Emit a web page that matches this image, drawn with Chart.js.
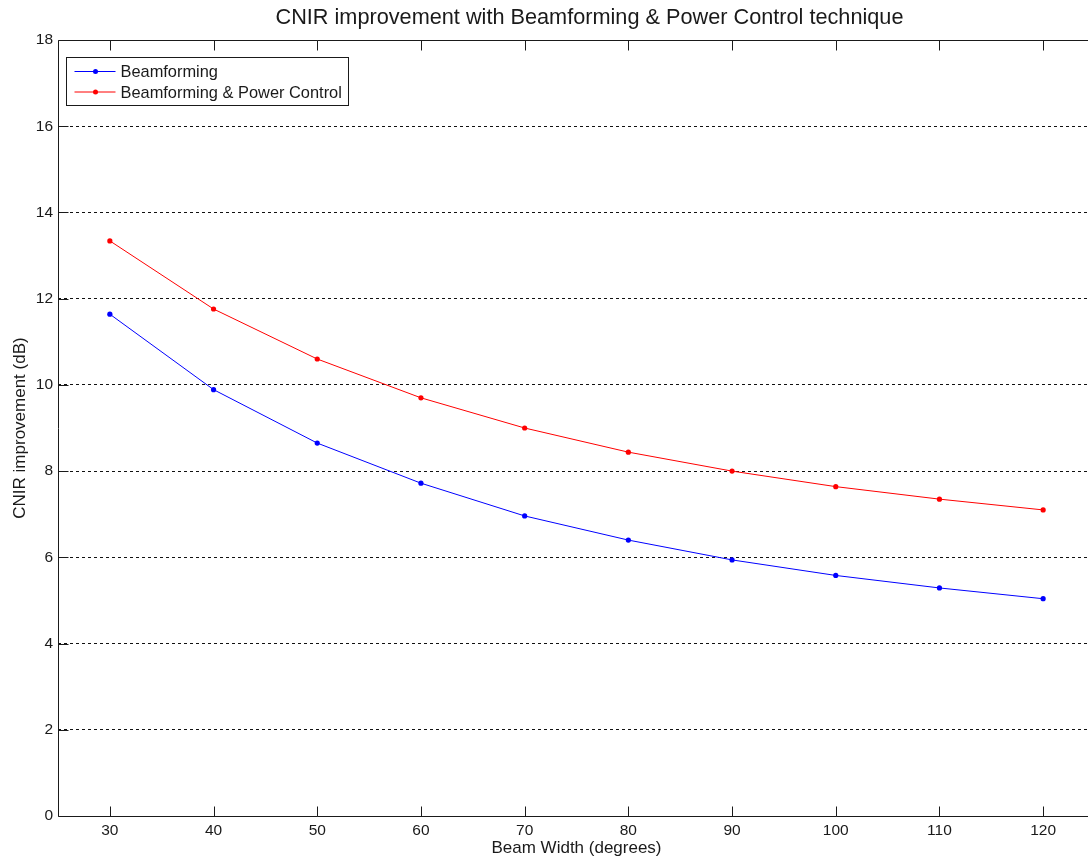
<!DOCTYPE html>
<html>
<head>
<meta charset="utf-8">
<title>CNIR improvement</title>
<script src="https://cdn.jsdelivr.net/npm/chart.js@4"></script>
<style>
  html, body { margin: 0; padding: 0; overflow: hidden; background: #fff; }
  #wrap { position: relative; width: 1179px; height: 859px; }
</style>
</head>
<body>
<div id="wrap"><canvas id="cnir"></canvas></div>
<script>
// Beam width (degrees) and CNIR improvement (dB) for each technique
const beamWidths = [30, 40, 50, 60, 70, 80, 90, 100, 110, 120];
const beamforming = [11.64, 9.89, 8.65, 7.72, 6.96, 6.40, 5.94, 5.58, 5.29, 5.04];
const beamformingPowerControl = [13.34, 11.76, 10.60, 9.70, 9.00, 8.44, 8.00, 7.64, 7.35, 7.10];
const xTickValues = [30, 40, 50, 60, 70, 80, 90, 100, 110, 120];
const yTickValues = [0, 2, 4, 6, 8, 10, 12, 14, 16, 18];
const chartTitle = 'CNIR improvement with Beamforming & Power Control technique';

const FONT = "'Liberation Sans', Arial, Helvetica, sans-serif";
const INK = '#1a1a1a';

Chart.defaults.font.family = FONT;
Chart.defaults.color = INK;

const toPoints = ys => beamWidths.map((x, i) => ({ x, y: ys[i] }));

// Figure title, box frame, inward tick marks and an in-plot legend
const axesFrame = {
  id: 'axesFrame',
  afterDatasetsDraw(chart) {
    const { ctx, chartArea: a, scales } = chart;
    const L = Math.round(a.left) + 0.5, R = Math.round(a.right) + 0.5;
    const T = Math.round(a.top) + 0.5, B = Math.round(a.bottom) + 0.5;
    const tick = 10;
    ctx.save();

    // title (slightly right of the axes centre, as the figure places it)
    ctx.fillStyle = INK;
    ctx.font = '21.7px ' + FONT;
    ctx.textAlign = 'center';
    ctx.textBaseline = 'middle';
    ctx.fillText(chartTitle, (a.left + a.right) / 2 + 13, 18);

    ctx.strokeStyle = INK;
    ctx.lineWidth = 1;
    ctx.setLineDash([]);
    ctx.beginPath();
    ctx.rect(L, T, R - L, B - T);
    xTickValues.forEach(v => {
      const px = Math.round(scales.x.getPixelForValue(v)) + 0.5;
      ctx.moveTo(px, B); ctx.lineTo(px, B - tick);
      ctx.moveTo(px, T); ctx.lineTo(px, T + tick);
    });
    yTickValues.forEach(v => {
      const py = Math.round(scales.y.getPixelForValue(v)) + 0.5;
      ctx.moveTo(L, py); ctx.lineTo(L + tick, py);
    });
    ctx.stroke();

    // legend
    const bx = L + 8, by = T + 17, bw = 282, bh = 48;
    ctx.fillStyle = '#fff';
    ctx.fillRect(bx, by, bw, bh);
    ctx.strokeRect(bx, by, bw, bh);
    ctx.font = '16.4px ' + FONT;
    ctx.textBaseline = 'middle';
    ctx.textAlign = 'left';
    chart.data.datasets.forEach((ds, i) => {
      const ry = by + 14 + i * 20.5;
      ctx.strokeStyle = ds.borderColor;
      ctx.beginPath();
      ctx.moveTo(bx + 8, ry); ctx.lineTo(bx + 49, ry);
      ctx.stroke();
      ctx.fillStyle = ds.borderColor;
      ctx.beginPath();
      ctx.arc(bx + 29, ry, 2.5, 0, Math.PI * 2);
      ctx.fill();
      ctx.fillStyle = INK;
      ctx.fillText(ds.label, bx + 54, ry + 1);
    });
    ctx.restore();
  }
};

new Chart(document.getElementById('cnir'), {
  type: 'line',
  data: {
    datasets: [
      {
        label: 'Beamforming',
        data: toPoints(beamforming),
        borderColor: '#0000ff',
        backgroundColor: '#0000ff',
        borderWidth: 1,
        pointRadius: 2.6,
        pointBorderWidth: 0,
        pointBackgroundColor: '#0000ff',
        tension: 0
      },
      {
        label: 'Beamforming & Power Control',
        data: toPoints(beamformingPowerControl),
        borderColor: '#ff0000',
        backgroundColor: '#ff0000',
        borderWidth: 1,
        pointRadius: 2.6,
        pointBorderWidth: 0,
        pointBackgroundColor: '#ff0000',
        tension: 0
      }
    ]
  },
  options: {
    responsive: true,
    maintainAspectRatio: false,
    animation: false,
    events: [],
    layout: { padding: { left: 0, right: 84, top: 40, bottom: 0 } },
    plugins: {
      legend: { display: false },
      tooltip: { enabled: false },
      title: { display: false }
    },
    scales: {
      x: {
        type: 'linear',
        min: 25,
        max: 125,
        afterBuildTicks: s => { s.ticks = xTickValues.map(v => ({ value: v })); },
        afterFit: s => { s.height = 43; },
        grid: { display: false, drawTicks: false },
        border: { display: false },
        ticks: { font: { size: 15.5 }, color: INK, padding: 5, maxRotation: 0, autoSkip: false },
        title: {
          display: true,
          text: 'Beam Width (degrees)',
          color: INK,
          font: { size: 17 },
          padding: { top: 0, bottom: 0 }
        }
      },
      y: {
        type: 'linear',
        min: 0,
        max: 18,
        afterBuildTicks: s => { s.ticks = yTickValues.map(v => ({ value: v })); },
        afterFit: s => { s.width = 58; },
        grid: {
          drawTicks: false,
          color: c => (c.tick && (c.tick.value === 0 || c.tick.value === 18)) ? 'rgba(0,0,0,0)' : '#111',
          lineWidth: 1
        },
        border: { display: false, dash: [3, 3] },
        ticks: { font: { size: 15.5 }, color: INK, padding: 5 },
        title: {
          display: true,
          text: 'CNIR improvement (dB)',
          color: INK,
          font: { size: 17 },
          padding: { top: 10, bottom: 0 }
        }
      }
    }
  },
  plugins: [axesFrame]
});
</script>
</body>
</html>
